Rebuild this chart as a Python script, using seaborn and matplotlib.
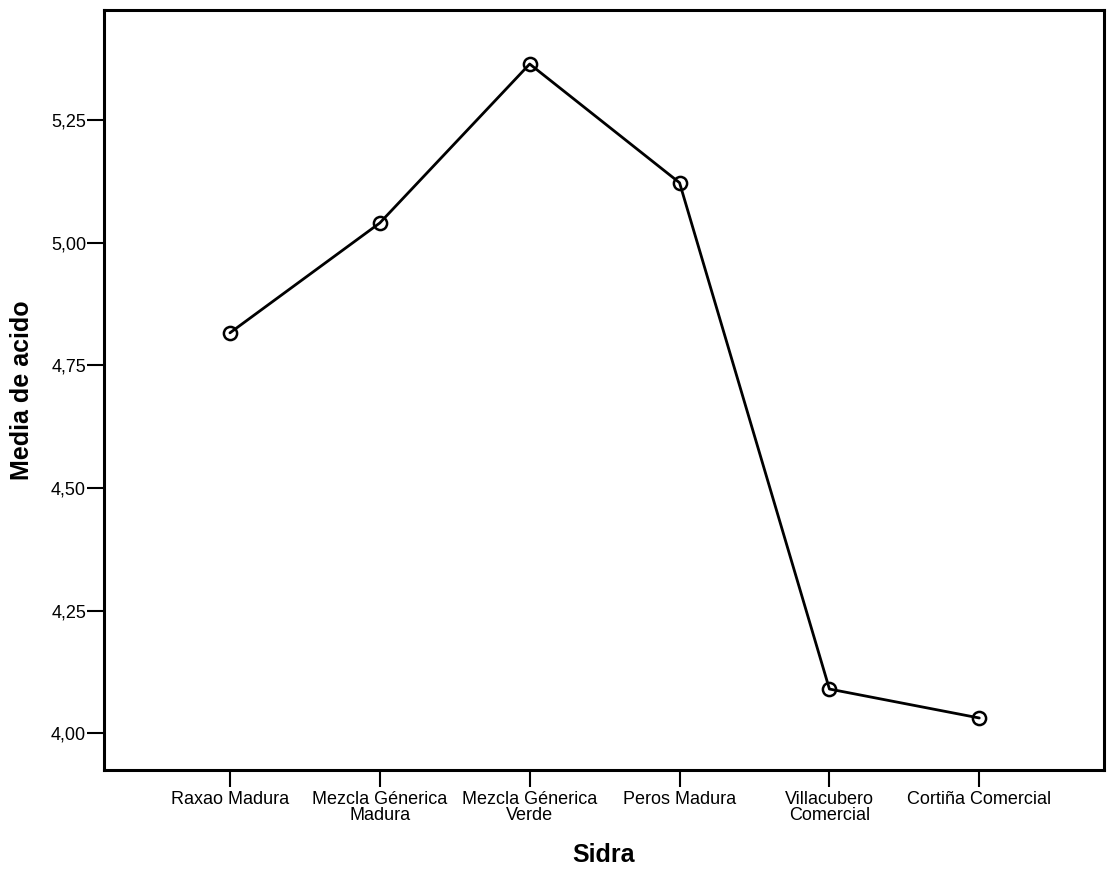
import matplotlib
matplotlib.use("Agg")
import matplotlib.pyplot as plt
import seaborn as sns
import pandas as pd

# Mean acidity per cider type
sidras = [
    "Raxao Madura",
    "Mezcla Génerica\nMadura",
    "Mezcla Génerica\nVerde",
    "Peros Madura",
    "Villacubero\nComercial",
    "Cortiña Comercial",
]
media_acido = [4.816, 5.040, 5.364, 5.122, 4.090, 4.031]
y_ticks = [4.00, 4.25, 4.50, 4.75, 5.00, 5.25]
y_tick_labels = ["4,00", "4,25", "4,50", "4,75", "5,00", "5,25"]

sns.set_theme(style="white")
plt.rcParams["font.family"] = ["Liberation Sans", "DejaVu Sans"]

df = pd.DataFrame({"Sidra": sidras, "Media de acido": media_acido})
df["pos"] = range(len(sidras))

fig = plt.figure(figsize=(11.07, 8.73), dpi=100)
ax = fig.add_axes([0.094, 0.118, 0.903, 0.8705])

sns.lineplot(
    data=df, x="pos", y="Media de acido", sort=False, ax=ax,
    color="black", linewidth=2.0, marker="o", markersize=9.5,
    markerfacecolor="none", markeredgecolor="black", markeredgewidth=1.8,
)

ax.set_xlim(-0.84, 5.83)
ax.set_ylim(3.925, 5.474)
ax.set_xticks(df["pos"])
ax.set_xticklabels(sidras, fontsize=13, linespacing=0.9)
ax.set_yticks(y_ticks)
ax.set_yticklabels(y_tick_labels, fontsize=13)

ax.tick_params(axis="both", direction="out", length=12, width=1.5,
               color="black", bottom=True, left=True, labelcolor="black")
ax.tick_params(axis="y", pad=1)
ax.tick_params(axis="x", pad=3)

for side in ["left", "right", "top", "bottom"]:
    ax.spines[side].set_visible(True)
    ax.spines[side].set_color("black")
    ax.spines[side].set_linewidth(2.2)

ax.set_xlabel("Sidra", fontsize=18, fontweight="bold", color="black", va="center")
ax.set_ylabel("Media de acido", fontsize=18, fontweight="bold", color="black", va="center")
ax.xaxis.set_label_coords(0.5, -0.112)
ax.yaxis.set_label_coords(-0.082, 0.5)
ax.grid(False)

fig.savefig("out.png", dpi=100, facecolor="white")
